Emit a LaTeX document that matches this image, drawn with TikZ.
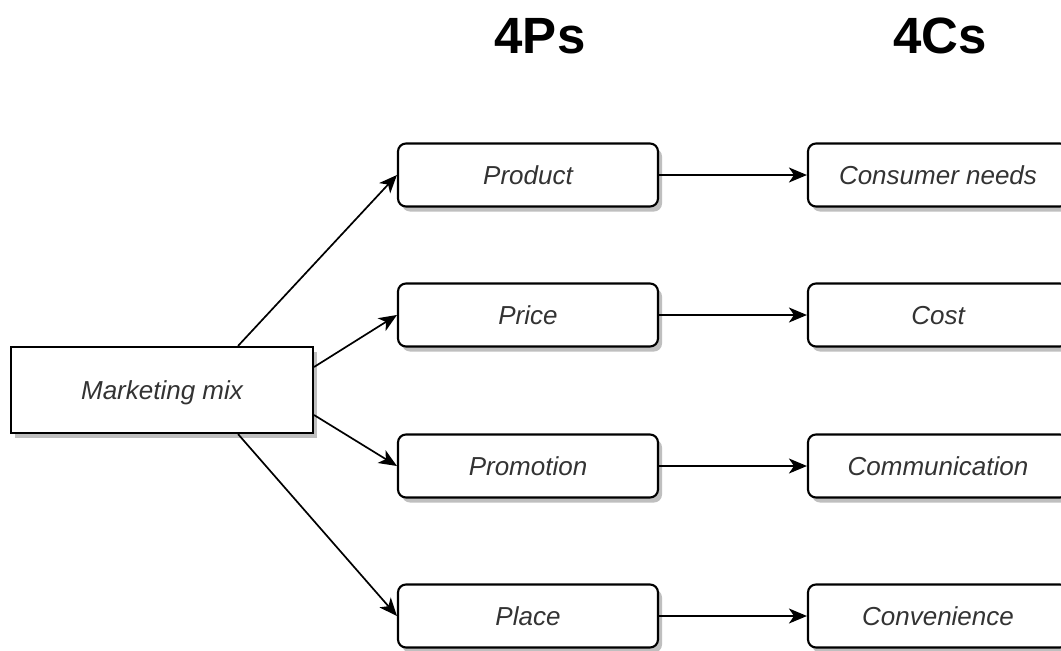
\documentclass[tikz,border=0pt]{standalone}
\usepackage{fontspec}
\setmainfont{Liberation Sans}
\usetikzlibrary{arrows.meta,shadows,calc}

\tikzset{
  base/.style={
    draw=black, line width=2.1pt, fill=white,
    font=\fontsize{26}{31}\selectfont\itshape, text=black!80,
    text height=18.7pt, text depth=0pt, inner sep=0pt,
    drop shadow={shadow xshift=4pt, shadow yshift=-5pt, fill=black!25, opacity=1}
  },
  mixbox/.style={base, minimum width=302pt, minimum height=86pt},
  itembox/.style={base, rounded corners=8pt, minimum width=260pt, minimum height=63pt},
  header/.style={font=\fontsize{51}{60}\selectfont\bfseries, anchor=base, inner sep=0pt},
  link/.style={draw=black, line width=1.7pt,
    -{Stealth[length=18pt, width=15pt, inset=5pt]}}
}

\begin{document}
\begin{tikzpicture}[x=1pt, y=-1pt]
  \clip (0,0) rectangle (1061,651);
  \fill[white] (0,0) rectangle (1061,651);

  % column headings
  \node[header] (hp) at (540,53) {4Ps};
  \node[header] (hc) at (940,53) {4Cs};

  % root
  \node[mixbox] (mm) at (162,390) {Marketing mix};

  % the four Ps
  \node[itembox] (p1) at (528,175) {Product};
  \node[itembox] (p2) at (528,315) {Price};
  \node[itembox] (p3) at (528,466) {Promotion};
  \node[itembox] (p4) at (528,616) {Place};

  % the four Cs
  \node[itembox] (c1) at (938,175) {Consumer needs};
  \node[itembox] (c2) at (938,315) {Cost};
  \node[itembox] (c3) at (938,466) {Communication};
  \node[itembox] (c4) at (938,616) {Convenience};

  % branches from the root
  \coordinate (s1) at ($(mm.north west)!0.75!(mm.north east)$);
  \coordinate (s4) at ($(mm.south west)!0.75!(mm.south east)$);
  \draw[link] (s1) -- (p1.west);
  \draw[link] ([yshift=23pt]mm.east) -- (p2.west);
  \draw[link] ([yshift=-25pt]mm.east) -- (p3.west);
  \draw[link] (s4) -- (p4.west);

  % P to C mapping
  \draw[link] (p1.east) -- (c1.west);
  \draw[link] (p2.east) -- (c2.west);
  \draw[link] (p3.east) -- (c3.west);
  \draw[link] (p4.east) -- (c4.west);
\end{tikzpicture}
\end{document}
